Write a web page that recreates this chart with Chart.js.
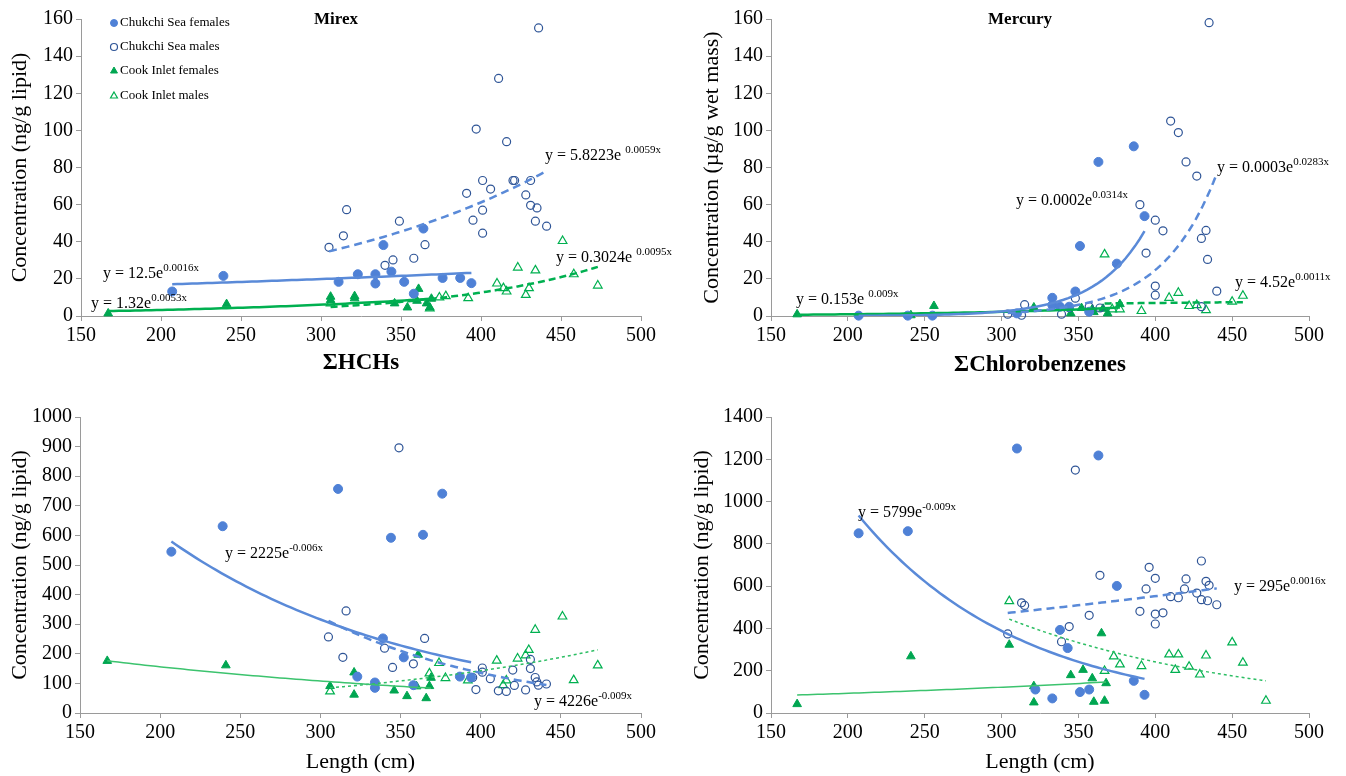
<!DOCTYPE html>
<html>
<head>
<meta charset="utf-8">
<script src="https://cdn.jsdelivr.net/npm/chart.js@4.4.0/dist/chart.umd.min.js"></script>
<style>
  body { margin: 0; background: #fff; width: 1346px; height: 776px; position: relative; overflow: hidden; }
  canvas { position: absolute; }
</style>
</head>
<body>
<canvas id="mirex" width="673" height="388" style="left:0;top:0"></canvas>
<canvas id="mercury" width="673" height="388" style="left:673px;top:0"></canvas>
<canvas id="len1" width="673" height="388" style="left:0;top:388px"></canvas>
<canvas id="len2" width="673" height="388" style="left:673px;top:388px"></canvas>
<script>
// ---- data: [x, concentration] per whale group ----
// Mirex vs sum HCHs
const mirexCSF = [[207,13.2],[239,21.6],[311,18.4],[323,22.5],[334,22.5],[334,17.5],[339,38.2],[344,23.9],[352,18.4],[358,12],[364,47.1],[376,20.5],[387,20.5],[394,17.7]];
const mirexCSM = [[305,37],[314,43.2],[316,57.3],[340,27.3],[345,30.2],[349,51.1],[358,31.1],[365,38.4],[391,66.1],[395,51.6],[397,100.7],[401,73],[401,57],[401,44.6],[406,68.4],[411,128],[416,93.9],[420,73],[421,73],[428,65.2],[431,73],[431,59.6],[435,58.2],[434,51.1],[436,155.2],[441,48.4]];
const mirexCIF = [[167,1.4],[241,6.4],[306,10.4],[306,8.6],[321,10.7],[321,9.5],[346,6.8],[354,4.6],[360,8.2],[361,14.6],[366,6.8],[368,4.6],[369,9.3]];
const mirexCIM = [[306,6.8],[368,4.1],[374,10],[378,10.7],[392,9.6],[410,17.5],[414,15],[416,13.2],[423,26.1],[428,11.4],[430,15],[434,24.6],[451,40.4],[458,22.5],[473,16.4]];

// Mercury vs sum chlorobenzenes
const mercCSF = [[207,0.2],[239,0.2],[255,0.2],[310,1.4],[333,9.8],[333,5.9],[338,5],[344,5],[348,13.2],[351,37.7],[357,2.3],[363,83],[375,28.2],[386,91.4],[393,53.8]];
const mercCSM = [[304,1],[313,0.4],[315,6.1],[339,1],[344,4.5],[348,9.6],[357,5],[364,4.3],[390,60],[394,33.9],[400,51.6],[400,16.1],[400,11.2],[405,45.9],[410,105],[415,98.8],[420,83],[427,75.4],[430,41.8],[430,5],[433,46.1],[434,30.5],[435,158],[440,13.4]];
const mercCIF = [[167,0.9],[241,0.4],[256,5.4],[321,4.6],[345,1.4],[352,4.3],[359,3.6],[360,2.1],[366,3.9],[369,1.4],[377,6.4]];
const mercCIM = [[367,33.2],[372,3.6],[377,3.6],[391,2.7],[409,9.8],[415,12.5],[422,5.4],[427,5.9],[433,3.2],[450,7.7],[457,10.9]];
// mercury trend equations as printed (a, b)
const mercTrendA = [0.0002, 0.0003, 0.153, 4.52];
const mercTrendB = [0.0314, 0.0283, 0.009, 0.0011];

// Length, lower left panel
const len1CSF = [[207,545],[239,631],[311,757],[323,123],[334,103],[334,85],[339,252],[344,592],[352,188],[358,94],[364,602],[376,741],[387,123],[394,120]];
const len1CSM = [[305,257],[314,188],[316,345],[340,219],[345,154],[349,896],[358,166],[365,252],[395,120],[397,79],[401,152],[401,138],[406,116],[411,75],[416,73],[420,145],[421,93],[428,78],[431,181],[431,150],[434,120],[435,105],[436,94],[441,98]];
const len1CIF = [[167,176],[241,161],[306,91],[321,137],[321,62],[346,76],[354,57],[360,90],[361,197],[366,50],[368,91],[369,119]];
const len1CIM = [[306,73],[368,134],[374,169],[378,118],[392,110],[410,177],[414,94],[416,110],[423,184],[428,195],[430,213],[434,281],[451,326],[458,111],[473,161]];

// Length, lower right panel
const len2CSF = [[207,850],[239,860],[310,1251],[322,111],[333,69],[338,393],[343,307],[351,99],[357,111],[363,1218],[375,601],[386,152],[393,86]];
const len2CSM = [[304,374],[313,521],[315,509],[339,337],[344,409],[348,1149],[357,462],[364,651],[390,481],[394,587],[396,689],[400,637],[400,468],[400,421],[405,474],[410,550],[415,545],[419,587],[420,634],[427,567],[430,719],[430,536],[433,623],[434,531],[435,604],[440,512]];
const len2CIF = [[167,42],[241,268],[305,323],[321,127],[321,50],[345,179],[353,204],[359,164],[360,53],[365,377],[367,58],[368,141]];
const len2CIM = [[305,529],[367,199],[373,268],[377,230],[391,222],[409,277],[413,204],[415,277],[422,219],[429,182],[433,272],[450,334],[457,238],[472,58]];

const groupNames = ['Chukchi Sea females', 'Chukchi Sea males', 'Cook Inlet females', 'Cook Inlet males'];

const FONT = "'Liberation Serif', 'Times New Roman', serif";
const BLUE = '#4F81D6', NAVY = '#2F5597', BLUE_LINE = '#5A8AD8';
const GREEN = '#00A651', GREEN_OPEN = '#00B050';

const markers = [
  { pointStyle: 'circle', pointRadius: 4.5, backgroundColor: BLUE, borderColor: BLUE, borderWidth: 1 },
  { pointStyle: 'circle', pointRadius: 4, backgroundColor: 'rgba(0,0,0,0)', borderColor: NAVY, borderWidth: 1.2 },
  { pointStyle: 'triangle', pointRadius: 5, backgroundColor: GREEN, borderColor: GREEN, borderWidth: 1 },
  { pointStyle: 'triangle', pointRadius: 5, backgroundColor: 'rgba(0,0,0,0)', borderColor: GREEN_OPEN, borderWidth: 1.2 }
];

// exponential least squares fit, same as a spreadsheet trendline
function expFit(pts) {
  let n = pts.length, sx = 0, sy = 0, sxx = 0, sxy = 0;
  pts.forEach(([x, y]) => { const ly = Math.log(y); sx += x; sy += ly; sxx += x * x; sxy += x * ly; });
  const b = (n * sxy - sx * sy) / (n * sxx - sx * sx);
  return { a: Math.exp((sy - b * sx) / n), b: b };
}

function trendLine(pts, fit) {
  const xs = pts.map(p => p[0]);
  const x0 = Math.min(...xs), x1 = Math.max(...xs);
  const out = [];
  for (let i = 0; i <= 60; i++) {
    const x = x0 + (x1 - x0) * i / 60;
    out.push({ x: x, y: fit.a * Math.exp(fit.b * x) });
  }
  return out;
}

function drawMarker(ctx, m, x, y, r) {
  ctx.save();
  ctx.lineWidth = m.borderWidth;
  ctx.strokeStyle = m.borderColor;
  ctx.fillStyle = m.backgroundColor;
  ctx.beginPath();
  if (m.pointStyle === 'circle') {
    ctx.arc(x, y, r, 0, Math.PI * 2);
  } else {
    ctx.moveTo(x, y - r);
    ctx.lineTo(x + r * 0.866, y + r * 0.5);
    ctx.lineTo(x - r * 0.866, y + r * 0.5);
    ctx.closePath();
  }
  ctx.fill();
  ctx.stroke();
  ctx.restore();
}

function textPlugin(p) {
  return {
    id: 'txt',
    afterDraw(chart) {
      const ctx = chart.ctx;
      ctx.save();
      ctx.fillStyle = '#000';
      if (p.title) {
        ctx.font = 'bold 17px ' + FONT;
        ctx.textAlign = 'center';
        ctx.textBaseline = 'middle';
        ctx.fillText(p.title, p.titleX, 20);
      }
      ctx.textAlign = 'left';
      ctx.textBaseline = 'alphabetic';
      (p.eqs || []).forEach(([main, sup, x, y, gap]) => {
        ctx.font = '16px ' + FONT;
        ctx.fillText(main, x, y);
        const w = ctx.measureText(main).width;
        ctx.font = '11px ' + FONT;
        ctx.fillText(sup, x + w + gap, y - 7);
      });
      if (p.legend) {
        ctx.font = '13px ' + FONT;
        ctx.textBaseline = 'middle';
        groupNames.forEach((name, i) => {
          const y = [23, 47, 71, 96][i];
          drawMarker(ctx, markers[i], 114, y, i < 2 ? 3.5 : 4);
          ctx.fillStyle = '#000';
          ctx.fillText(name, 120, y);
        });
      }
      ctx.restore();
    }
  };
}

function panel(id, cfg) {
  const datasets = [];
  cfg.series.forEach((pts, i) => {
    const fit = cfg.fits ? cfg.fits[i] : expFit(pts);
    const st = cfg.lines[i];
    datasets.push({
      data: trendLine(pts, fit), showLine: true, pointRadius: 0, borderColor: st[0],
      borderWidth: st[1], borderDash: st[2], tension: 0, fill: false
    });
  });
  cfg.series.forEach((pts, i) => {
    datasets.push(Object.assign({ data: pts.map(([x, y]) => ({ x: x, y: y })), label: groupNames[i], clip: false }, markers[i]));
  });
  new Chart(document.getElementById(id), {
    type: 'scatter',
    data: { datasets: datasets },
    options: {
      responsive: false,
      animation: false,
      layout: { padding: { left: 0, right: cfg.padRight, top: cfg.padTop, bottom: 0 } },
      plugins: { legend: { display: false }, tooltip: { enabled: false } },
      scales: {
        x: {
          type: 'linear', min: 150, max: 500,
          ticks: { stepSize: 50, color: '#000', font: { family: FONT, size: 20 }, padding: 3, maxRotation: 0, autoSkip: false },
          grid: { drawOnChartArea: false, drawTicks: true, tickLength: 5, color: '#9a9a9a' },
          border: { color: '#9a9a9a' },
          title: { display: true, text: cfg.xTitle, color: '#000', font: { family: FONT, size: cfg.xBold ? 23 : 22, weight: cfg.xBold ? 'bold' : 'normal' }, padding: { top: 0, bottom: cfg.xTitlePad } },
          afterFit: s => { s.height = cfg.xH; }
        },
        y: {
          min: 0, max: cfg.yMax,
          ticks: { stepSize: cfg.yStep, color: '#000', font: { family: FONT, size: 20 }, padding: 3, callback: v => String(v) },
          grid: { drawOnChartArea: false, drawTicks: true, tickLength: 5, color: '#9a9a9a' },
          border: { color: '#9a9a9a' },
          title: { display: true, text: cfg.yTitle, color: '#000', font: { family: FONT, size: 22 }, padding: { top: cfg.yTitlePad, bottom: 0 } },
          afterFit: s => { s.width = cfg.yW; }
        }
      }
    },
    plugins: [textPlugin(cfg.text)]
  });
}

const topLines = [[BLUE_LINE, 2.5, []], [BLUE_LINE, 2.5, [8, 5]], [GREEN_OPEN, 2.5, []], [GREEN_OPEN, 2.5, [7, 4]]];
const lowLines = [[BLUE_LINE, 2.5, []], [BLUE_LINE, 2.5, [8, 5]], ['#3CC36E', 1.5, []], ['#2DBE64', 1.5, [3, 3]]];

panel('mirex', {
  series: [mirexCSF, mirexCSM, mirexCIF, mirexCIM], lines: topLines,
  padRight: 32, padTop: 19, xH: 72, yW: 81, yMax: 160, yStep: 20,
  xTitle: 'ΣHCHs', xBold: true, xTitlePad: 11, yTitle: 'Concentration (ng/g lipid)', yTitlePad: 7,
  text: {
    title: 'Mirex', titleX: 336, legend: true,
    eqs: [['y = 12.5e', '0.0016x', 103, 278, 0], ['y = 1.32e', '0.0053x', 91, 308, 0],
          ['y = 5.8223e', '0.0059x', 545, 160, 4], ['y = 0.3024e', '0.0095x', 556, 262, 4]]
  }
});

panel('mercury', {
  series: [mercCSF, mercCSM, mercCIF, mercCIM], lines: topLines,
  fits: mercTrendA.map((a, i) => ({ a: a, b: mercTrendB[i] })),
  padRight: 37, padTop: 19, xH: 72, yW: 98, yMax: 160, yStep: 20,
  xTitle: 'ΣChlorobenzenes', xBold: true, xTitlePad: 9, yTitle: 'Concentration (µg/g wet mass)', yTitlePad: 26,
  text: {
    title: 'Mercury', titleX: 347,
    eqs: [['y = 0.0002e', '0.0314x', 343, 205, 0], ['y = 0.0003e', '0.0283x', 544, 172, 0],
          ['y = 4.52e', '0.0011x', 562, 287, 0], ['y = 0.153e', '0.009x', 123, 304, 4]]
  }
});

panel('len1', {
  series: [len1CSF, len1CSM, len1CIF, len1CIM], lines: lowLines,
  padRight: 32, padTop: 29, xH: 63, yW: 80, yMax: 1000, yStep: 100,
  xTitle: 'Length (cm)', xBold: false, xTitlePad: 1, yTitle: 'Concentration (ng/g lipid)', yTitlePad: 7,
  text: { eqs: [['y = 2225e', '-0.006x', 225, 170, 0], ['y = 4226e', '-0.009x', 534, 318, 0]] }
});

panel('len2', {
  series: [len2CSF, len2CSM, len2CIF, len2CIM], lines: lowLines,
  padRight: 37, padTop: 29, xH: 63, yW: 98, yMax: 1400, yStep: 200,
  xTitle: 'Length (cm)', xBold: false, xTitlePad: 1, yTitle: 'Concentration (ng/g lipid)', yTitlePad: 16,
  text: { eqs: [['y = 5799e', '-0.009x', 185, 129, 0], ['y = 295e', '0.0016x', 561, 203, 0]] }
});
</script>
</body>
</html>
